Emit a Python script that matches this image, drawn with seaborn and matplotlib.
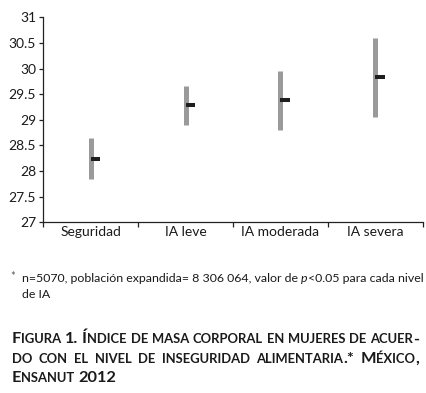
import matplotlib
matplotlib.use("Agg")
import matplotlib.pyplot as plt
import seaborn as sns
import pandas as pd
import numpy as np

# ---- data ----
categories = ["Seguridad", "IA leve", "IA moderada", "IA severa"]
means = [28.24, 29.28, 29.38, 29.83]
lower = [27.84, 28.90, 28.81, 29.05]
upper = [28.65, 29.65, 29.95, 30.60]
yticks = [27, 27.5, 28, 28.5, 29, 29.5, 30, 30.5, 31]
ytick_labels = ["27", "27.5", "28", "28.5", "29", "29.5", "30", "30.5", "31"]

footnote_1 = "n=5070, población expandida= 8 306 064, valor de "
footnote_p = "p"
footnote_2 = "<0.05 para cada nivel"
footnote_3 = "de IA"
caption_lines = [
    "Figura 1. Índice de masa corporal en mujeres de acuer-",
    "do con el nivel de inseguridad alimentaria.* México,",
    "Ensanut 2012",
]

W, H = 427, 393
FONT = "Lato"
sns.set_theme(style="white")
plt.rcParams["font.family"] = [FONT, "DejaVu Sans"]

fig = plt.figure(figsize=(W / 100, H / 100), dpi=100)
fig.patch.set_facecolor("white")

ax_left, ax_right = 43.3, 422.7
ax_top, ax_bottom = 17.3, 222.3
ax = fig.add_axes([ax_left / W, 1 - ax_bottom / H,
                   (ax_right - ax_left) / W, (ax_bottom - ax_top) / H])

# long-form frame: range ends per category -> min/max interval
long_df = pd.DataFrame({
    "cat": categories * 2,
    "val": lower + upper,
})
sns.pointplot(data=long_df, x="cat", y="val", order=categories,
              estimator="mean", errorbar=("pi", 100),
              linestyle="none", marker="", color="#9a9a9a",
              err_kws={"linewidth": 3.6, "solid_capstyle": "butt"}, ax=ax)

xpos = np.arange(len(categories))
ax.hlines(means, xpos, xpos + 0.101, colors="#1e1e1e", linewidth=2.9)

ax.set_xlim(-0.5, len(categories) - 0.5)
ax.set_ylim(27, 31)
ax.set_yticks(yticks)
ax.set_yticklabels(ytick_labels)
ax.set_xticks(xpos)
ax.set_xticklabels(categories)
ax.set_xlabel("")
ax.set_ylabel("")

for s in ["top", "right"]:
    ax.spines[s].set_visible(False)
for s in ["left", "bottom"]:
    ax.spines[s].set_color("#222222")
    ax.spines[s].set_linewidth(0.9)

ax.tick_params(axis="y", which="major", left=True, length=3.2, width=0.9,
               color="#222222", pad=2, labelsize=10, labelcolor="#1a1a1a")
ax.tick_params(axis="x", which="major", bottom=False, length=0, pad=3,
               labelsize=10, labelcolor="#1a1a1a")
# category boundary ticks
ax.set_xticks(np.arange(len(categories) + 1) - 0.5, minor=True)
ax.tick_params(axis="x", which="minor", bottom=True, length=3.5, width=0.9,
               color="#222222")

renderer = fig.canvas.get_renderer()


def measure(txt, **kw):
    t = fig.text(0, 0, txt, **kw)
    w = t.get_window_extent(renderer).width
    t.remove()
    return w


def px(x, y):
    return x / W, 1 - y / H


# ---- footnote ----
fn_size = 9.0
fn_color = "#1a1a1a"
runs = [(footnote_1, "normal"), (footnote_p, "italic"), (footnote_2, "normal")]
target = 423 - 22
for _ in range(3):
    total = sum(measure(r, fontsize=fn_size, fontstyle=st, family=[FONT])
                for r, st in runs)
    fn_size *= target / total
x = 22
for r, st in runs:
    fig.text(*px(x, 281.7), r, fontsize=fn_size, fontstyle=st, family=[FONT],
             color=fn_color, va="baseline", ha="left")
    x += measure(r, fontsize=fn_size, fontstyle=st, family=[FONT])
fig.text(*px(10.5, 280), "*", fontsize=fn_size * 0.9, family=[FONT],
         color="#555555", va="baseline", ha="left")
fig.text(*px(22, 298.3), footnote_3, fontsize=fn_size, family=[FONT],
         color=fn_color, va="baseline", ha="left")


# ---- caption in small caps ----
def split_runs(word):
    runs = []
    for ch in word:
        small = ch.islower()
        c = ch.upper() if small else ch
        if runs and runs[-1][1] == small:
            runs[-1][0] += c
        else:
            runs.append([c, small])
    return runs


big, small = 11.8, 9.4
cap_color = "#1a1a1a"


def word_width(word, b, s):
    return sum(measure(r, fontsize=(s if sm else b), fontweight="bold",
                       family=[FONT]) for r, sm in split_runs(word))


def space_w(s):
    return measure("a b", fontsize=s, fontweight="bold", family=[FONT]) - \
        measure("ab", fontsize=s, fontweight="bold", family=[FONT])


def line_natural(line, b, s):
    words = line.split(" ")
    return sum(word_width(w, b, s) for w in words) + space_w(s) * (len(words) - 1)


cap_left, cap_right = 12, 419
target = cap_right - cap_left
for _ in range(3):
    nat = max(line_natural(l, big, small) for l in caption_lines[:2])
    if nat > target * 0.995:
        f = target * 0.995 / nat
        big *= f
        small *= f

baselines = [343.3, 362.7, 381.7]
for i, line in enumerate(caption_lines):
    words = line.split(" ")
    widths = [word_width(w, big, small) for w in words]
    if i < 2:
        gap = (target - sum(widths)) / (len(words) - 1)
    else:
        gap = space_w(small) * 1.2
    x = cap_left
    for w, ww in zip(words, widths):
        xx = x
        for r, sm in split_runs(w):
            fs = small if sm else big
            fig.text(*px(xx, baselines[i]), r, fontsize=fs, fontweight="bold",
                     family=[FONT], color=cap_color, va="baseline", ha="left")
            xx += measure(r, fontsize=fs, fontweight="bold", family=[FONT])
        x += ww + gap

fig.savefig("out.png", dpi=100, facecolor="white")
